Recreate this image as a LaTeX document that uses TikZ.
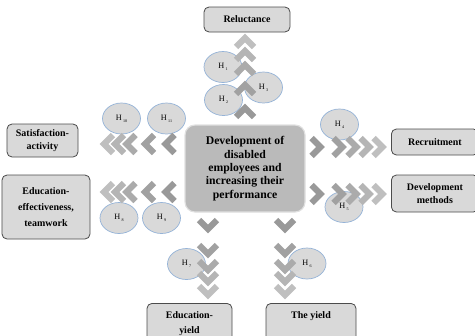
\documentclass[tikz,border=0pt]{standalone}
\usepackage{fontspec}
\setmainfont{Liberation Serif}
\usetikzlibrary{shapes.geometric}

\definecolor{hypblue}{HTML}{95B3D7}
\colorlet{chev1}{black!40}
\colorlet{chev2}{black!37}
\colorlet{chev3}{black!33}
\colorlet{chev4}{black!29}
\colorlet{chev5}{black!25}
\newcommand{\hyp}[1]{H\,\raisebox{-1.6pt}{\fontsize{3.5}{4}\selectfont #1}}

\begin{document}
\begin{tikzpicture}[
            x=0.3mm, y=-0.3mm,
            box/.style={draw=black!70, line width=0.7pt, fill=black!15, rounded corners=1.5mm, align=center, inner sep=0pt, font=\bfseries\fontsize{8.5}{12}\selectfont},
            core/.style={draw=black!12, line width=1pt, fill=black!27, rounded corners=3mm, align=center, minimum width=36mm, minimum height=26.1mm, font=\bfseries\fontsize{10}{11.4}\selectfont},
            hypo/.style={ellipse, draw=hypblue, line width=0.6pt, fill=black!15, minimum width=11.4mm, minimum height=9.3mm, inner sep=0pt, font=\fontsize{7}{8}\selectfont},
            chevron/.pic={\draw[pic actions, line width=1.9mm] (-9,4.5) -- (0,-4.5) -- (9,4.5);}
        ]
        \useasboundingbox (0,0) rectangle (475,335);
        \clip (0,0) rectangle (475,335);

        % Central box
        \node (core) at (245,168.5) [core] {Development of\\disabled\\employees and\\increasing their\\performance};

        % Outer boxes
        \node (reluct) at (247,19.5) [box, minimum width=25.8mm, minimum height=7.5mm] {Reluctance};
        \node (satisf) at (42.5,140.5) [box, minimum width=21.3mm, minimum height=9.9mm, font=\bfseries\fontsize{8.5}{11}\selectfont] {Satisfaction-\\activity};
        \node (educeff) at (46,207) [box, minimum width=26.4mm, minimum height=19.2mm, font=\bfseries\fontsize{8.5}{14}\selectfont] {Education-\\effectiveness,\\teamwork};
        \node (recruit) at (391,142) [box, anchor=west, minimum width=26.1mm, minimum height=7.8mm] {Recruitment};
        \node (devmeth) at (391,193.5) [box, anchor=west, minimum width=26.1mm, minimum height=11.1mm, font=\bfseries\fontsize{8.5}{11}\selectfont] {Development\\methods};
        \node (eduyield) at (189.5,303) [box, anchor=north, minimum width=25.5mm, minimum height=12mm, font=\bfseries\fontsize{8.5}{13}\selectfont] {Education-\\yield};
        \node (yield) at (311,303) [box, anchor=north, minimum width=27mm, minimum height=12mm, font=\bfseries\fontsize{8.5}{13}\selectfont] {The yield\\\phantom{y}};

        % Hypotheses
        \node (h1) at (223,67) [hypo] {\hyp{1}};
        \node (h2) at (223.5,100) [hypo] {\hyp{2}};
        \node (h3) at (263.5,87.5) [hypo] {\hyp{3}};
        \node (h4) at (339.5,124.5) [hypo] {\hyp{4}};
        \node (h5) at (344,207) [hypo] {\hyp{5}};
        \node (h6) at (307,263.5) [hypo] {\hyp{6}};
        \node (h7) at (186.5,264) [hypo] {\hyp{7}};
        \node (h8) at (119,218) [hypo] {\hyp{8}};
        \node (h9) at (161.5,218) [hypo] {\hyp{9}};
        \node (h10) at (121.5,118.5) [hypo] {\hyp{10}};
        \node (h11) at (166.5,118.5) [hypo] {\hyp{11}};

        % Chevrons, from the centre outwards
        \foreach \p [count=\i] in {112.5,89.5,69.5,55.5,42.5}
            \pic [draw=chev\i] at (245,\p) {chevron};
        \foreach \p [count=\i] in {170,149.5,131,119.5,108.5} {
            \pic [draw=chev\i, rotate=90] at (\p,144) {chevron};
            \pic [draw=chev\i, rotate=90] at (\p,192) {chevron};
        }
        \foreach \p [count=\i] in {316,338,352,365,378} {
            \pic [draw=chev\i, rotate=-90] at (\p,147) {chevron};
            \pic [draw=chev\i, rotate=-90] at (\p,194) {chevron};
        }
        \foreach \p [count=\i] in {224.5,249.5,265.5,277.5,290.5} {
            \pic [draw=chev\i, rotate=180] at (208,\p) {chevron};
            \pic [draw=chev\i, rotate=180] at (285,\p) {chevron};
        }
\end{tikzpicture}
\end{document}
